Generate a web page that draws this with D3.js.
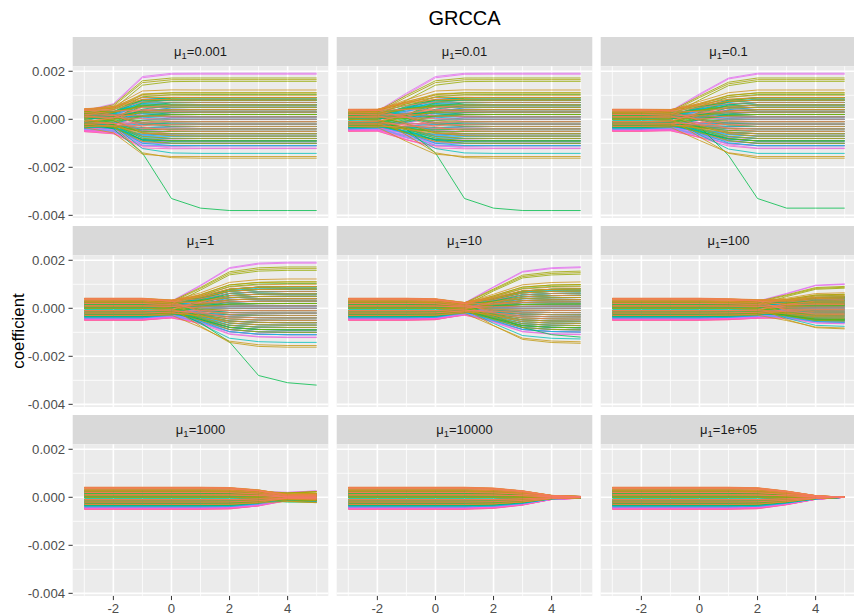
<!DOCTYPE html>
<html>
<head>
<meta charset="utf-8">
<script src="https://cdn.jsdelivr.net/npm/d3@7"></script>
<style>
  html, body { margin: 0; padding: 0; background: #fff; }
  svg { display: block; font-family: "Liberation Sans", Arial, sans-serif; }
</style>
</head>
<body>
<svg id="chart" width="854" height="615"></svg>
<script>
// log10(lambda) grid on the x axis
const xSteps = [-3, -2, -1, 0, 1, 2, 3, 4, 5];

// facet labels (mu_1)
const panelLabels = ["0.001", "0.01", "0.1", "1", "10", "100", "1000", "10000", "1e+05"];

const yTicks = [-0.004, -0.002, 0, 0.002];
const yTickLabels = ["-0.004", "-0.002", "0.000", "0.002"];
const yMinor = [-0.003, -0.001, 0.001];
const xTicks = [-2, 0, 2, 4];
const xTickLabels = ["-2", "0", "2", "4"];
const xMinor = [-3, -1, 1, 3, 5];

// coefficient of each variable at the small-lambda end (x = -3) ...
const startCoef = [
   0.0001, -0.0002,  0.00038, 0.00041, -0.0001,  0.0003,  0.00042, 0.0002,
   0.0004,  0.00035, -0.0003,  0.0001,   0.0004, -0.0001,  0.00025, 0.0003,
   0.0001,  0.0002, -0.0002,   0.0,      0.0003, -0.0003,  0.0001, -0.0001,
   0.0002, -0.0001, -0.0002,   0.00015, -0.00035, 0.0,     0.0002, -0.00025,
   0.00005, -0.0001, 0.0001,  -0.0003,   0.0002, -0.0002,  0.00005, -0.00035,
   0.0001, -0.0002,  0.0,     -0.00015,  0.00025, -0.0003, 0.00005, -0.0001,
   0.0002, -0.00035, 0.0,     -0.0002,   0.0001, -0.0004,  0.00015, -0.00025,
   0.0,    -0.0003,  0.0003,   0.00025, -0.00038, -0.00045, -0.00042, -0.0004,
  -0.00048, -0.00035, -0.0005, -0.00042, -0.00044, 0.0002, -0.00046, 0.0001
];

// ... and its value once the mu_1 = 0.001 path has levelled off
const endCoef = [
   0.0,    -0.0001,  0.0003,  -0.0005,   0.0006, -0.0003,  0.0008, -0.0007,
   0.001,   0.00122, -0.00155, -0.00162, 0.0009,  0.0004,  0.00165, 0.00172,
   0.00158, 0.0011,  0.0002,  -0.0009,   0.0005, -0.0004,  0.00103, -0.0006,
   0.0001, -0.0038,  0.0007,  -0.0002,   0.0003, -0.001,   0.0006, -0.0003,
   0.0009,  0.0,    -0.00142,  0.00085,  0.0008, -0.0008,  0.0004, -0.0001,
   0.0006, -0.0005,  0.0002,  -0.0009,   0.0005, -0.0007,  0.0001, -0.0002,
   0.0003, -0.0011,  0.0007,  -0.0004,   0.0,    -0.0006,  0.0009, -0.001,
   0.0003, -0.0002,  0.00192,  0.00188,  0.0005, -0.0009,  0.0001, -0.00122,
  -0.0011,  0.0004, -0.0003,   0.0,     -0.0008,  0.0002, -0.0001, -0.0006
];

// more variables from the dense middle of the bundle (start / end)
const extraStart = [
   0.0002, -0.0001,  0.00035, -0.0003,  0.0001,  0.0004, -0.0002,  0.00025,
   0.0,     0.0003, -0.00015,  0.00038, 0.00005, -0.00025, 0.0002, 0.0001,
  -0.0003,  0.00015, -0.0001,  0.0003, -0.0002,  0.0,     0.00025, -0.00035,
   0.0001, -0.00005, 0.0002,  -0.0003,  0.00015, -0.0002, 0.00005, 0.0003,
  -0.0001, -0.0004,  0.0002,  -0.00025, 0.0001, -0.00015, 0.00025, -0.0003,
   0.0,    -0.00035, 0.00015, -0.0002,  0.0001, -0.0004,  0.0002, -0.0001,
  -0.0003, -0.0004, -0.00045, -0.00043, -0.00036, -0.0004, -0.00047, -0.00048,
  -0.0005, -0.0003, 0.0002,  -0.0001
];
const extraEnd = [
   0.0001, -0.0004,  0.0007, -0.0002,  0.0004,  0.0009, -0.0006,  0.0005,
  -0.0008,  0.0011, -0.001,   0.0008,  0.0003, -0.0005,  0.0006, -0.0001,
   0.0009, -0.0007,  0.0002,  0.0008, -0.0009,  0.0004, -0.0003,  0.0006,
   0.0009, -0.0008,  0.0002, -0.0006,  0.0007, -0.0004,  0.0008,  0.0,
  -0.0011,  0.0005,  0.0007, -0.0009,  0.0003, -0.0007,  0.0006, -0.0003,
   0.0004, -0.001,   0.0008, -0.0005,  0.0001, -0.0008,  0.0005, -0.0012,
   0.0002, -0.0006, -0.001,   0.0003, -0.0009, -0.0004,  0.0006, -0.0011,
   0.0001, -0.0003,  0.0004, -0.0002
];

// share of the start / end coefficient present at each x step, per panel
const startWeight = [
  [1, 0.75, 0.3, 0.05, 0, 0, 0, 0, 0],
  [1, 0.95, 0.75, 0.3, 0.05, 0, 0, 0, 0],
  [1, 1, 0.9, 0.45, 0.1, 0, 0, 0, 0],
  [1, 1, 1, 0.75, 0.2, 0.02, 0, 0, 0],
  [1, 1, 1, 0.95, 0.5, 0.1, 0.01, 0, 0],
  [1, 1, 1, 1, 0.95, 0.8, 0.15, 0.01, 0],
  [1, 1, 1, 1, 1, 0.97, 0.7, 0.05, 0],
  [1, 1, 1, 1, 1, 0.92, 0.65, 0.17, 0.06],
  [1, 1, 1, 1, 1, 0.95, 0.62, 0.17, 0]
];
const endWeight = [
  [0.03, 0.22, 0.88, 0.99, 1, 1, 1, 1, 1],
  [0, 0.03, 0.45, 0.88, 0.99, 1, 1, 1, 1],
  [0, 0, 0.04, 0.48, 0.88, 1, 1, 1, 1],
  [0, 0, 0, 0.04, 0.47, 0.88, 0.98, 1, 1],
  [0, 0, 0, 0, 0.04, 0.45, 0.8, 0.88, 0.9],
  [0, 0, 0, 0, 0, 0.03, 0.3, 0.5, 0.53],
  [0, 0, 0, 0, 0, 0, 0.02, 0.1, 0.14],
  [0, 0, 0, 0, 0, 0, 0, 0.01, 0.01],
  [0, 0, 0, 0, 0, 0, 0, 0, 0]
];

// the lone green variable that dives to -0.004 moves slower, read per panel
const outlierIndex = 25;
const outlierPath = [
  [-0.0001, -0.0004, -0.0014, -0.0033, -0.0037, -0.0038, -0.0038, -0.0038, -0.0038],
  [-0.0001, -0.0001, -0.0004, -0.0014, -0.0033, -0.0037, -0.0038, -0.0038, -0.0038],
  [-0.0001, -0.0001, -0.0001, -0.0003, -0.0015, -0.0033, -0.0037, -0.0037, -0.0037],
  [-0.0001, -0.0001, -0.0001, -0.0001, -0.0006, -0.0014, -0.0028, -0.0031, -0.0032],
  [-0.0001, -0.0001, -0.0001, -0.0001, -0.0001, -0.0003, -0.0008, -0.0011, -0.0012],
  [-0.0001, -0.0001, -0.0001, -0.0001, -0.0001, -0.0001, -0.0003, -0.0005, -0.0005],
  [-0.0001, -0.0001, -0.0001, -0.0001, -0.0001, -0.0001, -0.0001, -0.0002, -0.0002],
  [-0.0001, -0.0001, -0.0001, -0.0001, -0.0001, -0.0001, -0.00007, -0.00002, 0],
  [-0.0001, -0.0001, -0.0001, -0.0001, -0.0001, -0.0001, -0.00006, -0.00002, 0]
];

// ---- layout (ggplot facet_wrap look) ----
const plotLeft = 72.7, plotTop = 37;
const panelW = 255.6, panelH = 151.6, stripH = 29.3, gapX = 8.4, gapY = 8.1;
const nCols = 3;

const svg = d3.select("#chart");

const x = d3.scaleLinear().domain([-3.4, 5.4]).range([0, panelW]);
const y = d3.scaleLinear().domain([-0.004107, 0.002207]).range([panelH, 0]);

// ggplot default hue palette, walked in variable order
const hue = d3.piecewise(d3.interpolateHcl,
  ["#F8766D", "#B79F00", "#00BA38", "#00BFC4", "#619CFF", "#F564E3", "#F8766D"]);

// one record per variable; the warm (orange / olive) ones end up drawn last
const vars = startCoef.map((s, i) => ({ id: i, start: s, end: endCoef[i], t: i / startCoef.length }))
  .concat(extraStart.map((s, j) => ({ id: -1, start: s, end: extraEnd[j], t: (j + 0.5) / extraStart.length })))
  .sort((a, b) => b.t - a.t);

const line = d3.line()
  .x((d, k) => x(xSteps[k]))
  .y((d) => y(d));

svg.append("text")
  .attr("x", plotLeft + (nCols * panelW + (nCols - 1) * gapX) / 2)
  .attr("y", 25)
  .attr("text-anchor", "middle")
  .attr("font-size", 20)
  .attr("fill", "#000")
  .text("GRCCA");

panelLabels.forEach((lab, p) => {
  const col = p % nCols, row = Math.floor(p / nCols);
  const px = plotLeft + col * (panelW + gapX);
  const sy = plotTop + row * (stripH + panelH + gapY);
  const py = sy + stripH;

  // strip
  svg.append("rect")
    .attr("x", px).attr("y", sy)
    .attr("width", panelW).attr("height", stripH)
    .attr("fill", "#D9D9D9");

  const st = svg.append("text")
    .attr("x", px + panelW / 2)
    .attr("y", sy + 19)
    .attr("text-anchor", "middle")
    .attr("font-size", 13)
    .attr("fill", "#1A1A1A");
  st.append("tspan").text("μ");
  st.append("tspan").attr("dy", 3).attr("font-size", 9.5).text("1");
  st.append("tspan").attr("dy", -3).text("=" + lab);

  const g = svg.append("g").attr("transform", `translate(${px},${py})`);

  const clipId = "clip" + p;
  g.append("clipPath").attr("id", clipId)
    .append("rect").attr("width", panelW).attr("height", panelH);

  g.append("rect")
    .attr("width", panelW).attr("height", panelH)
    .attr("fill", "#EBEBEB");

  // grid
  g.selectAll("line.ymin").data(yMinor).enter().append("line")
    .attr("x1", 0).attr("x2", panelW)
    .attr("y1", (d) => y(d)).attr("y2", (d) => y(d))
    .attr("stroke", "#fff").attr("stroke-width", 0.8);
  g.selectAll("line.xmin").data(xMinor).enter().append("line")
    .attr("y1", 0).attr("y2", panelH)
    .attr("x1", (d) => x(d)).attr("x2", (d) => x(d))
    .attr("stroke", "#fff").attr("stroke-width", 0.8);
  g.selectAll("line.ymaj").data(yTicks).enter().append("line")
    .attr("x1", 0).attr("x2", panelW)
    .attr("y1", (d) => y(d)).attr("y2", (d) => y(d))
    .attr("stroke", "#fff").attr("stroke-width", 1.6);
  g.selectAll("line.xmaj").data(xTicks).enter().append("line")
    .attr("y1", 0).attr("y2", panelH)
    .attr("x1", (d) => x(d)).attr("x2", (d) => x(d))
    .attr("stroke", "#fff").attr("stroke-width", 1.6);

  // coefficient paths
  const paths = vars.map((v) => ({
    t: v.t,
    values: v.id === outlierIndex
      ? outlierPath[p]
      : xSteps.map((_, k) => startWeight[p][k] * v.start + endWeight[p][k] * v.end)
  }));

  g.append("g").attr("clip-path", `url(#${clipId})`)
    .selectAll("path").data(paths).enter().append("path")
    .attr("d", (d) => line(d.values))
    .attr("fill", "none")
    .attr("stroke", (d) => hue(d.t))
    .attr("stroke-width", 0.8);

  // y axis on first column
  if (col === 0) {
    const ya = g.append("g");
    yTicks.forEach((t, k) => {
      ya.append("line")
        .attr("x1", -4.2).attr("x2", 0)
        .attr("y1", y(t)).attr("y2", y(t))
        .attr("stroke", "#333").attr("stroke-width", 1);
      ya.append("text")
        .attr("x", -7.6).attr("y", y(t)).attr("dy", "0.35em")
        .attr("text-anchor", "end")
        .attr("font-size", 13.2)
        .attr("fill", "#4D4D4D")
        .text(yTickLabels[k]);
    });
  }

  // x axis on last row
  if (row === 2) {
    const xa = g.append("g");
    xTicks.forEach((t, k) => {
      xa.append("line")
        .attr("x1", x(t)).attr("x2", x(t))
        .attr("y1", panelH).attr("y2", panelH + 4.2)
        .attr("stroke", "#333").attr("stroke-width", 1);
      xa.append("text")
        .attr("x", x(t)).attr("y", panelH + 17.4)
        .attr("text-anchor", "middle")
        .attr("font-size", 13.2)
        .attr("fill", "#4D4D4D")
        .text(xTickLabels[k]);
    });
  }
});

svg.append("text")
  .attr("transform", `translate(23.5,331) rotate(-90)`)
  .attr("text-anchor", "middle")
  .attr("font-size", 16.8)
  .attr("fill", "#000")
  .text("coefficient");
</script>
</body>
</html>
